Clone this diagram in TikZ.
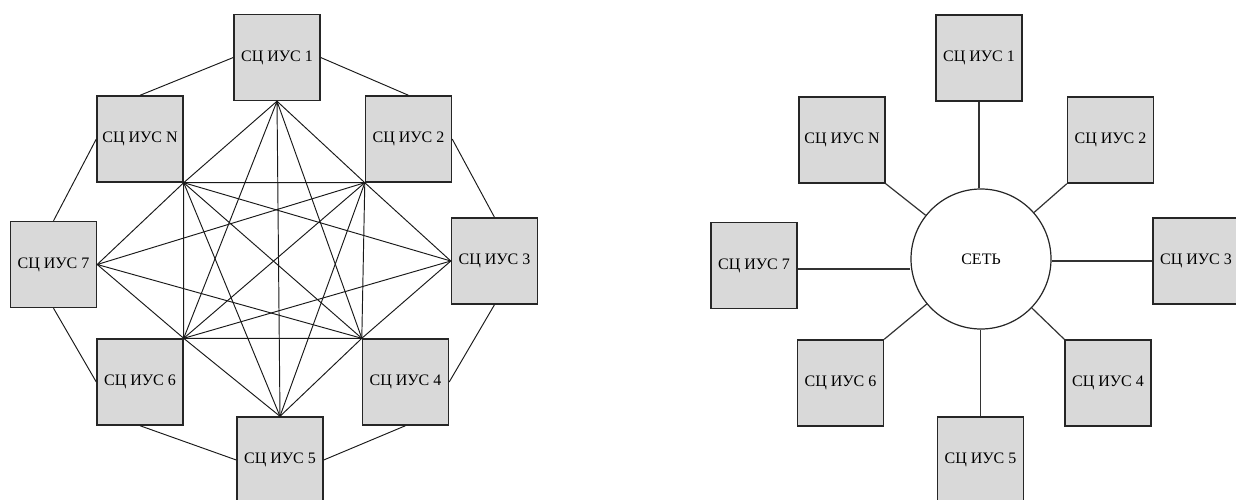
\documentclass[tikz,border=0pt]{standalone}
\usepackage{fontspec}
\setmainfont{Liberation Serif}
\begin{document}
\begin{tikzpicture}[x=1pt,y=-1pt,
  sbox/.style={draw=black!85,line width=1.4pt,fill=black!15,minimum width=86pt,minimum height=86pt,inner sep=0pt,font=\fontsize{16}{18}\selectfont},
  netnode/.style={circle,draw=black!85,line width=1.2pt,fill=white,minimum size=140pt,inner sep=0pt,font=\fontsize{16}{18}\selectfont},
  link/.style={draw=black!90,line width=0.95pt},
  spoke/.style={draw=black!80,line width=1.2pt}]
\clip (0,0) rectangle (1236,499);
\useasboundingbox (0,0) rectangle (1236,499);
% ---- left: full mesh ----
\node[sbox] (L1) at (277,57.5) {СЦ ИУС 1};
\node[sbox] (LN) at (140,139) {СЦ ИУС N};
\node[sbox] (L2) at (408.5,139) {СЦ ИУС 2};
\node[sbox] (L7) at (53.5,264.5) {СЦ ИУС 7};
\node[sbox] (L3) at (494.5,261) {СЦ ИУС 3};
\node[sbox] (L6) at (140,382) {СЦ ИУС 6};
\node[sbox] (L4) at (405.5,382) {СЦ ИУС 4};
\node[sbox] (L5) at (280,460) {СЦ ИУС 5};
% ring
\draw[link] (L1.west) -- (LN.north);
\draw[link] (L1.east) -- (L2.north);
\draw[link] (LN.west) -- (L7.north);
\draw[link] (L2.east) -- (L3.north);
\draw[link] (L7.south) -- (L6.west);
\draw[link] (L3.south) -- (L4.east);
\draw[link] (L6.south) -- (L5.west);
\draw[link] (L4.south) -- (L5.east);
% mesh
\coordinate (a1) at (L1.south);
\coordinate (aN) at (LN.south east);
\coordinate (a2) at (L2.south west);
\coordinate (a7) at (L7.east);
\coordinate (a3) at (L3.west);
\coordinate (a6) at (L6.north east);
\coordinate (a4) at (L4.north west);
\coordinate (a5) at (L5.north);
\draw[link] (aN) -- (a2) -- (a4) -- (a6) -- cycle;
\draw[link] (aN) -- (a4) (a2) -- (a6);
\draw[link] (a1) -- (aN) -- (a7) -- (a6) -- (a5) -- (a4) -- (a3) -- (a2) -- cycle;
\draw[link] (a1) -- (a4) (a1) -- (a6) (a1) -- (a5);
\draw[link] (a5) -- (a2) (a5) -- (aN);
\draw[link] (a7) -- (a2) (a7) -- (a4);
\draw[link] (a3) -- (aN) (a3) -- (a6);
% ---- right: star ----
\node[netnode] (net) at (981,259) {СЕТЬ};
\node[sbox] (R1) at (979,58) {СЦ ИУС 1};
\node[sbox] (RN) at (842,140) {СЦ ИУС N};
\node[sbox] (R2) at (1110.5,140) {СЦ ИУС 2};
\node[sbox] (R7) at (754,265.5) {СЦ ИУС 7};
\node[sbox] (R3) at (1196,261) {СЦ ИУС 3};
\node[sbox] (R6) at (840.5,383) {СЦ ИУС 6};
\node[sbox] (R4) at (1108,383) {СЦ ИУС 4};
\node[sbox] (R5) at (980.5,460) {СЦ ИУС 5};
\draw[spoke] (R1.south) -- (R1.south |- net.north);
\draw[spoke] (R5.north) -- (R5.north |- net.south);
\draw[spoke] ([yshift=-3.5pt]R7.east) -- ([yshift=-3.5pt]R7.east -| net.west);
\draw[spoke] (R3.west) -- (R3.west -| net.east);
\draw[spoke] (RN.south east) -- (net);
\draw[spoke] (R2.south west) -- (net);
\draw[spoke] (R6.north east) -- (net);
\draw[spoke] (R4.north west) -- (net);
\end{tikzpicture}
\end{document}
